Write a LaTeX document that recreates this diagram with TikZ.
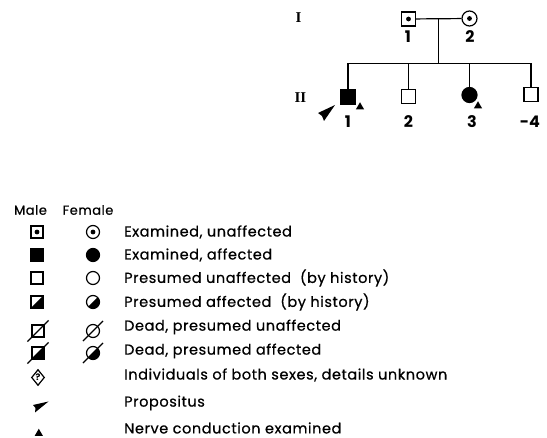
\documentclass[tikz,border=0pt]{standalone}
\usepackage{fontspec}
\setmainfont{Poppins}
\newfontfamily\legfont[LetterSpace=4, FakeBold=0.6]{Poppins}
\newfontfamily\genfont{Liberation Serif}
\usetikzlibrary{shapes.geometric, calc}
\tikzstyle{male}=[rectangle, draw, line width=1.2pt, minimum size=14pt, inner sep=0pt]
\tikzstyle{female}=[circle, draw, line width=1.2pt, minimum size=15pt, inner sep=0pt]
\tikzstyle{smale}=[rectangle, draw, line width=1.2pt, minimum size=12pt, inner sep=0pt]
\tikzstyle{sfemale}=[circle, draw, line width=1.2pt, minimum size=13pt, inner sep=0pt]
\tikzstyle{exam}=[path picture={\fill (path picture bounding box.center) circle (2.4pt);}]
\tikzstyle{half}=[path picture={\fill (path picture bounding box.south west) -- (path picture bounding box.north east) -- (path picture bounding box.south east) -- cycle;}]
\tikzstyle{nerve}=[regular polygon, regular polygon sides=3, fill, minimum size=9.5pt, inner sep=0pt]
\tikzstyle{num}=[font=\fontsize{16}{18}\selectfont\bfseries]
\tikzstyle{gen}=[font=\fontsize{15}{17}\selectfont\bfseries\genfont]
\tikzstyle{legend}=[anchor=west, inner sep=0pt, font=\fontsize{14.5}{16}\selectfont\legfont]
\tikzstyle{line}=[line width=1.2pt]

\begin{document}
\begin{tikzpicture}[x=1pt, y=-1pt]
	\useasboundingbox (0,0) rectangle (547,438);
	% pedigree
	\begin{scope}
		\node (g1) at (298.5,17.5)[gen] {I};
		\node (g2) at (300.5,97.5)[gen] {II};
		\node (I1) at (408.5,19)[male, exam] {};
		\node (I2) at (469.5,18.5)[female, exam] {};
		\node (II1) at (348,97)[male, fill] {};
		\node (II2) at (408.5,96.5)[male] {};
		\node (II3) at (469.5,95)[female, fill] {};
		\node (II4) at (531,94.5)[male] {};
		\node (lI1) at (408,37)[num] {1};
		\node (lI2) at (470,37)[num] {2};
		\node (lII1) at (348,122)[num] {1};
		\node (lII2) at (408.5,122)[num] {2};
		\node (lII3) at (472,122)[num] {3};
		\node (lII4) at (530,122)[num] {-4};
		\node (n1) at (360,107)[nerve] {};
		\node (n2) at (478,106)[nerve] {};
		\coordinate (p1) at (335,105);
		\fill (p1) -- ++(-17,8) -- ++(4,3) -- ++(2,5) -- cycle;
	\end{scope}
	\begin{scope}[line]
		\draw (I1) -- (I2);
		\coordinate (m) at ($(I1.east)!0.5!(I2.west)$);
		\coordinate (s) at ($(m)+(0,45)$);
		\draw (m) -- (s);
		\draw (II1.north) |- (s);
		\draw (II4.north) |- (s);
		\draw (II2.north) -- (II2.north |- s);
		\draw (II3.north) -- (II3.north |- s);
	\end{scope}
	% legend
	\begin{scope}
		\node (hm) at (30.5,210)[font=\fontsize{13}{15}\selectfont\legfont] {Male};
		\node (hf) at (88,210)[font=\fontsize{13}{15}\selectfont\legfont] {Female};
		\node (m1) at (37,232)[smale, exam] {};
		\node (f1) at (93,232)[sfemale, exam] {};
		\node (m2) at (37,255)[smale, fill] {};
		\node (f2) at (93,255)[sfemale, fill] {};
		\node (m3) at (37,278)[smale] {};
		\node (f3) at (93,278)[sfemale] {};
		\node (m4) at (37,302)[smale, half] {};
		\node (f4) at (93,302)[sfemale, half] {};
		\node (m5) at (38,331)[smale] {};
		\node (f5) at (93,331)[sfemale, draw=none] {};
		\node (m6) at (38,353)[smale, half] {};
		\node (f6) at (93,353)[sfemale, draw=none, half] {};
		\node (d) at (38,377.5)[diamond, draw, line width=1.2pt, minimum width=13pt, minimum height=16pt, inner sep=0pt, font=\fontsize{9}{9}\selectfont\bfseries] {?};
		\coordinate (p2) at (48.5,401.5);
		\fill (p2) -- ++(-15.5,3.5) -- ++(2.5,3) -- ++(-0.5,4.5) -- cycle;
		\node (n3) at (38.8,433.5)[nerve] {};
		\node (t1) at (124,232)[legend] {Examined, unaffected};
		\node (t2) at (124,255)[legend] {Examined, affected};
		\node (t3) at (124,278)[legend] {Presumed unaffected\ \ (by history)};
		\node (t4) at (124,302)[legend] {Presumed affected\ \ (by history)};
		\node (t5) at (124,327)[legend] {Dead, presumed unaffected};
		\node (t6) at (124,351)[legend] {Dead, presumed affected};
		\node (t7) at (124,375)[legend] {Individuals of both sexes, details unknown};
		\node (t8) at (124,403)[legend] {Propositus};
		\node (t9) at (124,428)[legend] {Nerve conduction examined};
	\end{scope}
	\begin{scope}[line]
		\draw (f5) circle (6.5);
		\draw ([shift={(-4pt,-4pt)}]m5.south west) -- ([shift={(4pt,4pt)}]m5.north east);
		\draw ([shift={(-5pt,-5pt)}]f5.south west) -- ([shift={(5pt,5pt)}]f5.north east);
		\draw ([shift={(-4pt,-4pt)}]m6.south west) -- ([shift={(4pt,4pt)}]m6.north east);
		\draw ([shift={(-5pt,-5pt)}]f6.south west) -- ([shift={(5pt,5pt)}]f6.north east);
		\draw (f6) circle (6.5);
	\end{scope}
\end{tikzpicture}
\end{document}
